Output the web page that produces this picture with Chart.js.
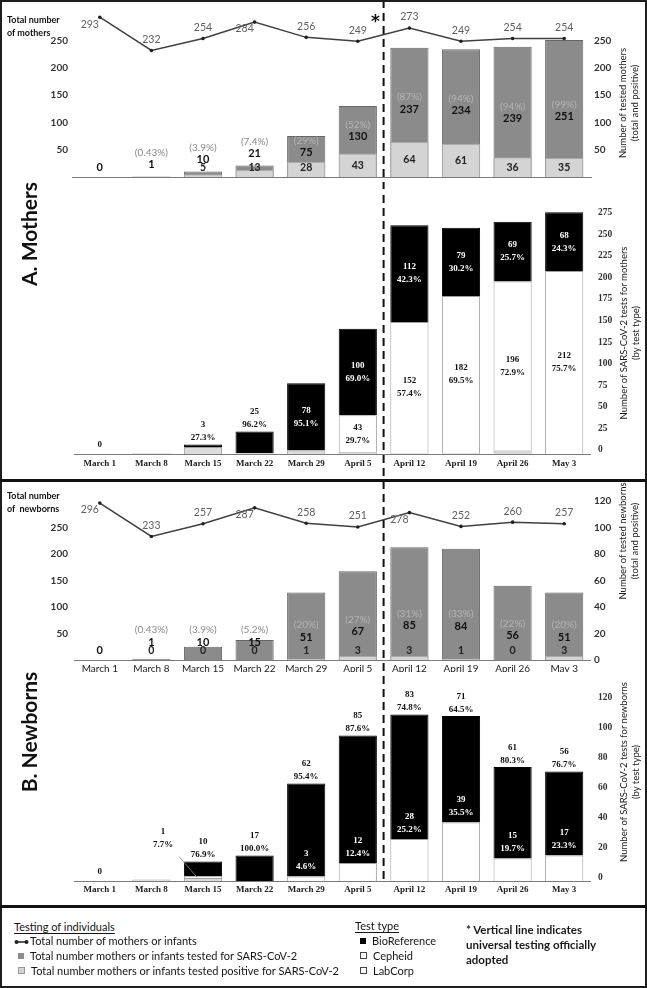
<!DOCTYPE html>
<html lang="en">
<head>
<meta charset="UTF-8">
<title>SARS-CoV-2 testing of mothers and newborns</title>
<script src="https://cdn.jsdelivr.net/npm/chart.js@4"></script>
<style>
    body {
        margin: 0;
        width: 647px;
        height: 988px;
        position: relative;
        overflow: hidden;
        background: #fff;
        font-family: Lato, 'Open Sans', sans-serif;
        color: #222;
    }
    canvas { position: absolute; left: 0; }
    .frame { position: absolute; left: 0; top: 0; width: 643px; height: 984px; border: 2px solid #1e1e1e; z-index: 5; }
    .sep { position: absolute; left: 0; width: 647px; height: 3px; background: #111; z-index: 5; }
    .vtitle {
        position: absolute;
        transform: translate(-50%, -50%) rotate(-90deg);
        white-space: nowrap;
        text-align: center;
        font-size: 9.5px;
        line-height: 12px;
        color: #1a1a1a;
    }
    .panel { font-size: 21px; font-weight: bold; color: #111; }
    .corner { position: absolute; left: 7px; font-size: 9px; font-weight: bold; line-height: 13px; color: #111; }
    .star { position: absolute; left: 371px; top: 11px; font: bold 17px 'DejaVu Sans', sans-serif; color: #111; }
    .leg { position: absolute; font-size: 11px; line-height: 14px; color: #151515; white-space: nowrap; }
    .leg u { text-underline-offset: 2px; }
    .sq { display: inline-block; width: 6px; height: 6px; margin-right: 6px; vertical-align: 1px; }
    .note { position: absolute; left: 466px; top: 922px; font-size: 11.5px; font-weight: bold; line-height: 15px; color: #1a1a1a; }
</style>
</head>
<body>
<canvas id="mothersTotal" width="647" height="192" style="top:-3px"></canvas>
<canvas id="mothersType" width="647" height="289" style="top:190px"></canvas>
<canvas id="newbornsTotal" width="647" height="190" style="top:482px"></canvas>
<canvas id="newbornsType" width="647" height="233" style="top:672px"></canvas>

<div class="frame"></div>
<div class="sep" style="top:479px"></div>
<div class="sep" style="top:905px"></div>

<div class="corner" style="top:13px">Total number<br>of mothers</div>
<div class="corner" style="top:489px">Total number<br>of &nbsp;newborns</div>
<div class="star">*</div>

<div class="vtitle panel" style="left:29px; top:234px">A. Mothers</div>
<div class="vtitle panel" style="left:29px; top:732px">B. Newborns</div>

<div class="vtitle" style="left:629px; top:103px">Number of tested mothers<br>(total and positive)</div>
<div class="vtitle" style="left:630px; top:333px">Number of SARS-CoV-2 tests for mothers<br>(by test type)</div>
<div class="vtitle" style="left:629px; top:541px">Number of tested newborns<br>(total and positive)</div>
<div class="vtitle" style="left:630px; top:772px">Number of SARS-CoV-2 tests for newborns<br>(by test type)</div>

<div class="leg" style="left:14px; top:920px"><u>Testing of individuals</u></div>
<div class="leg" style="left:14px; top:934px"><svg width="15" height="6" style="margin-right:1px"><line x1="2" y1="3" x2="13" y2="3" stroke="#222" stroke-width="1.5"/><circle cx="2.5" cy="3" r="2" fill="#222"/><circle cx="12.5" cy="3" r="2" fill="#222"/></svg>Total number of mothers or infants</div>
<div class="leg" style="left:18px; top:949px"><span class="sq" style="background:#8d8d8d"></span>Total number mothers or infants tested for SARS-CoV-2</div>
<div class="leg" style="left:18px; top:964px"><span class="sq" style="background:#d4d4d4; border:1px solid #999; width:5px; height:5px"></span>Total number mothers or infants tested positive for SARS-CoV-2</div>

<div class="leg" style="left:355px; top:919px"><u>Test type</u></div>
<div class="leg" style="left:360px; top:934px"><span class="sq" style="background:#000"></span>BioReference</div>
<div class="leg" style="left:360px; top:949px"><span class="sq" style="background:#fff; border:1px solid #444; width:5px; height:5px"></span>Cepheid</div>
<div class="leg" style="left:360px; top:964px"><span class="sq" style="background:#fff; border:1px solid #444; width:5px; height:5px"></span>LabCorp</div>

<div class="note">* Vertical line indicates<br>universal testing officially<br>adopted</div>

<script>
    // Weeks
    const weeks = ['March 1', 'March 8', 'March 15', 'March 22', 'March 29', 'April 5', 'April 12', 'April 19', 'April 26', 'May 3'];

    // A. Mothers - total, tested, positive
    const totalMothers = [293, 232, 254, 284, 256, 249, 273, 249, 254, 254];
    const testedMothers = [0, 1, 10, 21, 75, 130, 237, 234, 239, 251];
    const positiveMothers = [null, null, 5, 13, 28, 43, 64, 61, 36, 35];
    const testedMothersPct = [null, '(0.43%)', '(3.9%)', '(7.4%)', '(29%)', '(52%)', '(87%)', '(94%)', '(94%)', '(99%)'];

    // A. Mothers - tests by type
    const mothersLabCorp = [0, 1, 8, 1, 4, 2, 1, 1, 4, 0];
    const mothersCepheid = [0, 0, 0, 0, 0, 43, 152, 182, 196, 212];
    const mothersCepheidPct = ['', '', '', '', '', '29.7%', '57.4%', '69.5%', '72.9%', '75.7%'];
    const mothersBioRef = [0, 0, 3, 25, 78, 100, 112, 79, 69, 68];
    const mothersBioRefPct = ['', '', '27.3%', '96.2%', '95.1%', '69.0%', '42.3%', '30.2%', '25.7%', '24.3%'];

    // B. Newborns - total, tested, positive
    const totalNewborns = [296, 233, 257, 287, 258, 251, 278, 252, 260, 257];
    const testedNewborns = [0, 1, 10, 15, 51, 67, 85, 84, 56, 51];
    const positiveNewborns = [null, 0, 0, 0, 1, 3, 3, 1, 0, 3];
    const testedNewbornsPct = [null, '(0.43%)', '(3.9%)', '(5.2%)', '(20%)', '(27%)', '(31%)', '(33%)', '(22%)', '(20%)'];

    // B. Newborns - tests by type
    const newbornsLabCorp = [0, 1, 2, 0, 0, 0, 0, 0, 0, 0];
    const newbornsCepheid = [0, 0, 1, 0, 3, 12, 28, 39, 15, 17];
    const newbornsCepheidPct = ['', '', '7.7%', '', '4.6%', '12.4%', '25.2%', '35.5%', '19.7%', '23.3%'];
    const newbornsBioRef = [0, 0, 10, 17, 62, 85, 83, 71, 61, 56];
    const newbornsBioRefPct = ['', '', '76.9%', '100.0%', '95.4%', '87.6%', '74.8%', '64.5%', '80.3%', '76.7%'];

    const tickFont = { family: 'Lato', size: 10, weight: 'bold' };
    const serifFont = { family: 'Liberation Serif', size: 9.5, weight: 'bold' };

    const ticksAt = values => scale => { scale.ticks = values.map(v => ({ value: v })); };
    const fixWidth = w => scale => { scale.width = w; };
    const fixHeight = h => scale => { scale.height = h; };

    // dashed "universal testing" line between April 5 and April 12
    function dashPlugin(pageTop, endY) {
        return {
            id: 'dash',
            afterDraw(chart) {
                const x = chart.scales.x;
                const px = (x.getPixelForValue(5) + x.getPixelForValue(6)) / 2;
                const ctx = chart.ctx;
                ctx.save();
                ctx.strokeStyle = '#111';
                ctx.lineWidth = 2;
                ctx.setLineDash([8, 5]);
                ctx.lineDashOffset = pageTop;
                ctx.beginPath();
                ctx.moveTo(px, 0);
                ctx.lineTo(px, endY == null ? chart.height : endY);
                ctx.stroke();
                ctx.restore();
            }
        };
    }

    function topLabelsPlugin(totals, tested, positive, pct, mode) {
        return {
            id: 'topLabels',
            afterDatasetsDraw(chart) {
                const ctx = chart.ctx, x = chart.scales.x, y = chart.scales.y, yL = chart.scales.yL;
                const base = y.getPixelForValue(0);
                ctx.save();
                ctx.textAlign = 'center';
                ctx.textBaseline = 'middle';

                if (mode === 'mothers') {
                    ctx.strokeStyle = '#7a7a7a';
                    ctx.lineWidth = 1;
                    ctx.beginPath();
                    ctx.moveTo(chart.chartArea.left - 2, base + 0.5);
                    ctx.lineTo(chart.chartArea.right + 2, base + 0.5);
                    ctx.stroke();
                }

                // labels of the total line
                ctx.font = '10.5px Lato';
                ctx.fillStyle = '#606060';
                totals.forEach((v, i) => {
                    const px = x.getPixelForValue(i), py = yL.getPixelForValue(v);
                    if (py - chart.chartArea.top < 18) ctx.fillText(String(v), px - 10, py + 7);
                    else ctx.fillText(String(v), px, py - 11);
                });

                tested.forEach((v, i) => {
                    const px = x.getPixelForValue(i);
                    const top = y.getPixelForValue(v);
                    const posTop = positive[i] == null ? base : y.getPixelForValue(positive[i]);
                    let vy;
                    if (v === 0) vy = base - 10;
                    else if (mode === 'mothers') {
                        const h = posTop - top;
                        vy = h >= 20 ? (top + posTop) / 2 + 0.15 * h : top - 12;
                    } else {
                        vy = base - Math.max(18, 6 + 0.25 * (base - top));
                    }
                    ctx.font = 'bold 11px Lato';
                    ctx.fillStyle = '#111';
                    ctx.fillText(String(v), px, vy);
                    if (pct[i]) {
                        const py = vy - 12;
                        ctx.font = '10px Lato';
                        // lighter grey when the text sits on the grey bar
                        ctx.fillStyle = py > top + 3 ? '#b4b4b4' : '#8a8a8a';
                        ctx.fillText(pct[i], px, py);
                    }
                    if (positive[i] != null) {
                        ctx.font = 'bold 10.5px Lato';
                        ctx.fillStyle = '#222';
                        ctx.fillText(String(positive[i]), px, Math.min((posTop + base) / 2, base - 9));
                    }
                });
                ctx.restore();
            }
        };
    }

    function typeLabelsPlugin(lab, ceph, cephPct, bio, bioPct, mode) {
        return {
            id: 'typeLabels',
            afterDatasetsDraw(chart) {
                const ctx = chart.ctx, x = chart.scales.x, y = chart.scales.y;
                const base = y.getPixelForValue(0);
                ctx.save();
                ctx.textAlign = 'center';
                ctx.textBaseline = 'middle';
                ctx.font = 'bold 9px "Liberation Serif"';
                const two = (a, b, px, c, color) => {
                    ctx.fillStyle = color;
                    ctx.fillText(a, px, c - 6.5);
                    ctx.fillText(b, px, c + 6.5);
                };
                bio.forEach((b, i) => {
                    const px = x.getPixelForValue(i);
                    const total = b + ceph[i] + lab[i];
                    if (total === 0) {
                        ctx.fillStyle = '#111';
                        ctx.fillText('0', px, base - 9);
                        return;
                    }
                    const top = y.getPixelForValue(total);
                    const bioBottom = y.getPixelForValue(total - b);
                    const cephBottom = y.getPixelForValue(lab[i]);
                    const bioH = bioBottom - top;
                    if (b > 0) {
                        if (mode === 'inside' && bioH >= 40) two(String(b), bioPct[i], px, (top + bioBottom) / 2, '#fff');
                        else two(String(b), bioPct[i], px, top - 13, '#111');
                    }
                    if (ceph[i] > 0) {
                        if (mode === 'inside') {
                            if (cephBottom - bioBottom >= 30) two(String(ceph[i]), cephPct[i], px, (bioBottom + cephBottom) / 2, '#111');
                        } else if (bioH >= 30) {
                            two(String(ceph[i]), cephPct[i], px, bioBottom - 16, '#fff');
                        } else {
                            // small segment: label to the left with a leader line
                            two(String(ceph[i]), cephPct[i], px - 40, top - 23, '#111');
                            ctx.strokeStyle = '#8a8a8a';
                            ctx.lineWidth = 0.8;
                            ctx.beginPath();
                            ctx.moveTo(px - 24, top - 5);
                            ctx.lineTo(px - 6, (bioBottom + cephBottom) / 2);
                            ctx.stroke();
                        }
                    }
                });
                ctx.restore();
            }
        };
    }

    function buildTopChart(canvasId, pageTop, totals, tested, positive, pct, cfg) {
        const barBase = { yAxisID: 'y', borderWidth: 1, grouped: false, barPercentage: 0.74, categoryPercentage: 1 };
        return new Chart(document.getElementById(canvasId), {
            type: 'bar',
            data: {
                labels: weeks,
                datasets: [
                    { type: 'line', data: totals, yAxisID: 'yL', borderColor: '#404040', borderWidth: 1.5, pointRadius: 1.8, pointBackgroundColor: '#202020', pointBorderWidth: 0, tension: 0, order: 0 },
                    Object.assign({ data: positive, backgroundColor: '#d4d4d4', borderColor: '#a9a9a9', order: 1 }, barBase),
                    Object.assign({ data: tested, backgroundColor: '#8b8b8b', borderColor: '#666666', order: 2 }, barBase)
                ]
            },
            options: {
                responsive: false,
                animation: false,
                events: [],
                layout: { padding: { top: cfg.padTop, bottom: cfg.padBottom } },
                plugins: { legend: { display: false }, tooltip: { enabled: false } },
                scales: {
                    x: cfg.showX ? {
                        grid: { display: false, drawTicks: false },
                        border: { color: '#7a7a7a' },
                        ticks: { padding: 3, color: '#222', autoSkip: false, maxRotation: 0, font: { family: 'Lato', size: 10 } },
                        afterFit: fixHeight(cfg.xHeight)
                    } : { display: false },
                    yL: {
                        position: 'left', min: 0, max: cfg.leftMax,
                        afterFit: fixWidth(74), afterBuildTicks: ticksAt([50, 100, 150, 200, 250]),
                        grid: { display: false, drawTicks: false }, border: { display: false },
                        ticks: { padding: 6, color: '#333', font: tickFont }
                    },
                    y: {
                        position: 'right', min: 0, max: cfg.rightMax,
                        afterFit: fixWidth(57), afterBuildTicks: ticksAt(cfg.rightTicks),
                        grid: { display: false, drawTicks: false }, border: { display: false },
                        ticks: { padding: 4, color: '#333', font: tickFont }
                    }
                }
            },
            plugins: [topLabelsPlugin(totals, tested, positive, pct, cfg.mode), dashPlugin(pageTop, null)]
        });
    }

    function buildTypeChart(canvasId, pageTop, lab, ceph, cephPct, bio, bioPct, cfg) {
        const barBase = { borderWidth: 1, barPercentage: 0.74, categoryPercentage: 1 };
        return new Chart(document.getElementById(canvasId), {
            type: 'bar',
            data: {
                labels: weeks,
                datasets: [
                    Object.assign({ label: 'LabCorp', data: lab, backgroundColor: '#dcdcdc', borderColor: '#a0a0a0' }, barBase),
                    Object.assign({ label: 'Cepheid', data: ceph, backgroundColor: '#ffffff', borderColor: '#a0a0a0' }, barBase),
                    Object.assign({ label: 'BioReference', data: bio, backgroundColor: '#000000', borderColor: '#000000' }, barBase)
                ]
            },
            options: {
                responsive: false,
                animation: false,
                events: [],
                layout: { padding: { top: cfg.padTop, left: 74 } },
                plugins: { legend: { display: false }, tooltip: { enabled: false } },
                scales: {
                    x: {
                        stacked: true,
                        grid: { display: false, drawTicks: false },
                        border: { color: '#7a7a7a' },
                        ticks: { padding: cfg.xPad, color: '#222', autoSkip: false, maxRotation: 0, font: { family: 'Liberation Serif', size: 9, weight: 'bold' } },
                        afterFit: fixHeight(cfg.xHeight)
                    },
                    y: {
                        stacked: true, position: 'right', min: 0, max: cfg.max,
                        afterFit: fixWidth(57), afterBuildTicks: ticksAt(cfg.ticks),
                        grid: { display: false, drawTicks: false }, border: { display: false },
                        ticks: { padding: 8, labelOffset: cfg.labelOffset, color: '#333', font: serifFont }
                    }
                }
            },
            plugins: [typeLabelsPlugin(lab, ceph, cephPct, bio, bioPct, cfg.mode), dashPlugin(pageTop, cfg.dashEnd)]
        });
    }

    buildTopChart('mothersTotal', -3, totalMothers, testedMothers, positiveMothers, testedMothersPct, {
        mode: 'mothers', padTop: 5, padBottom: 8, showX: false,
        leftMax: 308, rightMax: 308, rightTicks: [50, 100, 150, 200, 250]
    });

    buildTypeChart('mothersType', 190, mothersLabCorp, mothersCepheid, mothersCepheidPct, mothersBioRef, mothersBioRefPct, {
        mode: 'inside', padTop: 13, xHeight: 25, xPad: 4, max: 290, labelOffset: -4,
        ticks: [0, 25, 50, 75, 100, 125, 150, 175, 200, 225, 250, 275]
    });

    buildTopChart('newbornsTotal', 482, totalNewborns, testedNewborns, positiveNewborns, testedNewbornsPct, {
        mode: 'newborns', padTop: 13, padBottom: 0, showX: true, xHeight: 12,
        leftMax: 311.25, rightMax: 124.5, rightTicks: [0, 20, 40, 60, 80, 100, 120]
    });

    buildTypeChart('newbornsType', 672, newbornsLabCorp, newbornsCepheid, newbornsCepheidPct, newbornsBioRef, newbornsBioRefPct, {
        mode: 'above', padTop: 18, xHeight: 24, xPad: 3, max: 127.3, labelOffset: -3, dashEnd: 211,
        ticks: [0, 20, 40, 60, 80, 100, 120]
    });
</script>
</body>
</html>
